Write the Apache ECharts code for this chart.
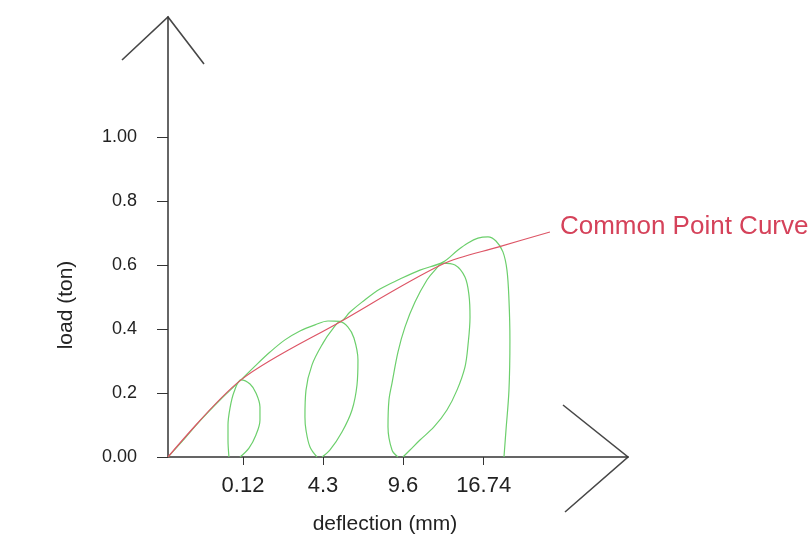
<!DOCTYPE html>
<html>
<head>
<meta charset="utf-8">
<script src="https://cdn.jsdelivr.net/npm/echarts@6/dist/echarts.min.js"></script>
<style>
  html, body { margin: 0; padding: 0; background: #ffffff; }
  #chart { width: 812px; height: 548px; }
</style>
</head>
<body>
<div id="chart"></div>
<script>
// Horizontal positions of the labelled cycles and their deflection labels (mm)
const xTickPositions = [0.934, 1.93, 2.925, 3.93];
const xTickLabels = ['0.12', '4.3', '9.6', '16.74'];

// Load axis ticks (ton)
const yTickValues = [0, 0.2, 0.4, 0.6, 0.8, 1.0];
const yTickLabels = ['0.00', '0.2', '0.4', '0.6', '0.8', '1.00'];

// Common point curve through the cycle peaks
const commonPointCurve = [
  [0, 0], [0.909, 0.241], [2.141, 0.422], [3.423, 0.603], [4.108, 0.656], [4.755, 0.703]
];

// Loading backbone: origin -> each peak -> final unloading branch
const backbone = [
  [0, 0], [0.212, 0.059], [0.398, 0.113], [0.647, 0.178], [0.909, 0.241],
  [1.083, 0.284], [1.270, 0.328], [1.456, 0.366], [1.643, 0.394], [1.830, 0.413],
  [1.992, 0.425], [2.141, 0.424], [2.266, 0.453], [2.415, 0.484], [2.639, 0.525],
  [2.888, 0.556], [3.137, 0.584], [3.423, 0.609], [3.610, 0.647], [3.735, 0.669],
  [3.859, 0.684], [3.984, 0.688], [4.083, 0.675], [4.170, 0.641], [4.220, 0.584],
  [4.245, 0.491], [4.257, 0.366], [4.245, 0.209], [4.208, 0.084], [4.183, 0]
];

// Unload / reload cycles
const cycle1 = [
  [0.759, 0], [0.747, 0.053], [0.747, 0.100], [0.772, 0.153], [0.822, 0.203],
  [0.909, 0.241], [1.021, 0.228], [1.095, 0.200], [1.145, 0.156], [1.145, 0.116],
  [1.095, 0.069], [1.008, 0.028], [0.896, 0]
];
const cycle2 = [
  [1.855, 0], [1.768, 0.031], [1.718, 0.084], [1.705, 0.125], [1.718, 0.209],
  [1.793, 0.288], [1.930, 0.356], [2.042, 0.397], [2.141, 0.422], [2.241, 0.406],
  [2.315, 0.372], [2.365, 0.303], [2.353, 0.225], [2.291, 0.147], [2.166, 0.078],
  [2.017, 0.022], [1.917, 0]
];
const cycle3 = [
  [2.863, 0], [2.789, 0.022], [2.739, 0.094], [2.751, 0.178], [2.789, 0.231],
  [2.863, 0.328], [2.950, 0.406], [3.075, 0.484], [3.224, 0.553], [3.324, 0.584],
  [3.423, 0.606], [3.573, 0.600], [3.697, 0.5625], [3.747, 0.506], [3.760, 0.4375],
  [3.735, 0.350], [3.697, 0.281], [3.598, 0.209], [3.473, 0.147], [3.311, 0.094],
  [3.137, 0.053], [3.013, 0.022], [2.925, 0]
];

const X_MAX = 5.727;
const Y_MAX = 1.375;
const AXIS_COLOR = '#333333';
const GREEN = '#6ccf6c';
const RED = '#dd5566';
const FONT = '"Liberation Sans", Arial, sans-serif';

const chart = echarts.init(document.getElementById('chart'), null, { renderer: 'canvas' });

function greenLine(data) {
  return {
    type: 'line',
    data: data,
    showSymbol: false,
    smooth: 0.35,
    smoothMonotone: null,
    silent: true,
    lineStyle: { color: GREEN, width: 1.2 },
    z: 2
  };
}

chart.setOption({
  animation: false,
  backgroundColor: '#ffffff',
  grid: { left: 168, right: 184, top: 17, bottom: 91, outerBoundsMode: 'none' },
  xAxis: {
    type: 'value',
    min: 0,
    max: X_MAX,
    name: 'deflection (mm)',
    nameLocation: 'middle',
    nameGap: 57,
    nameTextStyle: { fontFamily: FONT, fontSize: 21, color: '#222', padding: [0, 26, 0, 0] },
    axisLine: { show: true, lineStyle: { color: AXIS_COLOR, width: 1.5 } },
    axisTick: { show: true, customValues: xTickPositions, length: 8, lineStyle: { color: AXIS_COLOR } },
    axisLabel: {
      customValues: xTickPositions,
      margin: 18,
      fontFamily: FONT,
      fontSize: 22,
      color: '#222',
      formatter: function (v) {
        const i = xTickPositions.findIndex(p => Math.abs(p - v) < 1e-6);
        return i >= 0 ? xTickLabels[i] : '';
      }
    },
    splitLine: { show: false }
  },
  yAxis: {
    type: 'value',
    min: 0,
    max: Y_MAX,
    name: 'load (ton)',
    nameLocation: 'middle',
    nameRotate: 90,
    nameGap: 91,
    nameTextStyle: { fontFamily: FONT, fontSize: 21, color: '#222', padding: [0, 136, 0, 0] },
    axisLine: { show: true, lineStyle: { color: AXIS_COLOR, width: 1.5 } },
    axisTick: { show: true, customValues: yTickValues, length: 11, lineStyle: { color: AXIS_COLOR } },
    axisLabel: {
      customValues: yTickValues,
      margin: 31,
      fontFamily: FONT,
      fontSize: 18,
      color: '#222',
      formatter: function (v) {
        const i = yTickValues.findIndex(p => Math.abs(p - v) < 1e-6);
        return i >= 0 ? yTickLabels[i] : '';
      }
    },
    splitLine: { show: false }
  },
  series: [
    greenLine(backbone),
    greenLine(cycle1),
    greenLine(cycle2),
    greenLine(cycle3),
    {
      type: 'line',
      name: 'Common Point Curve',
      data: commonPointCurve,
      showSymbol: false,
      smooth: 0.3,
      silent: true,
      lineStyle: { color: RED, width: 1.2 },
      z: 3,
      endLabel: {
        show: true,
        formatter: 'Common Point Curve',
        distance: 10,
        offset: [0, -5],
        fontFamily: FONT,
        fontSize: 26,
        color: '#d5425a'
      }
    }
  ]
});

// Open chevron arrowheads at the ends of both axes
const yTip = chart.convertToPixel({ gridIndex: 0 }, [0, Y_MAX]);
const xTip = chart.convertToPixel({ gridIndex: 0 }, [X_MAX, 0]);
const arrowStyle = { stroke: '#474747', lineWidth: 1.6, fill: null };
chart.setOption({
  graphic: [
    {
      type: 'polyline',
      shape: { points: [[yTip[0] - 46, yTip[1] + 43], [yTip[0], yTip[1]], [yTip[0] + 36, yTip[1] + 47]] },
      style: arrowStyle,
      silent: true
    },
    {
      type: 'polyline',
      shape: { points: [[xTip[0] - 65, xTip[1] - 52], [xTip[0], xTip[1]], [xTip[0] - 63, xTip[1] + 55]] },
      style: arrowStyle,
      silent: true
    }
  ]
});
</script>
</body>
</html>
